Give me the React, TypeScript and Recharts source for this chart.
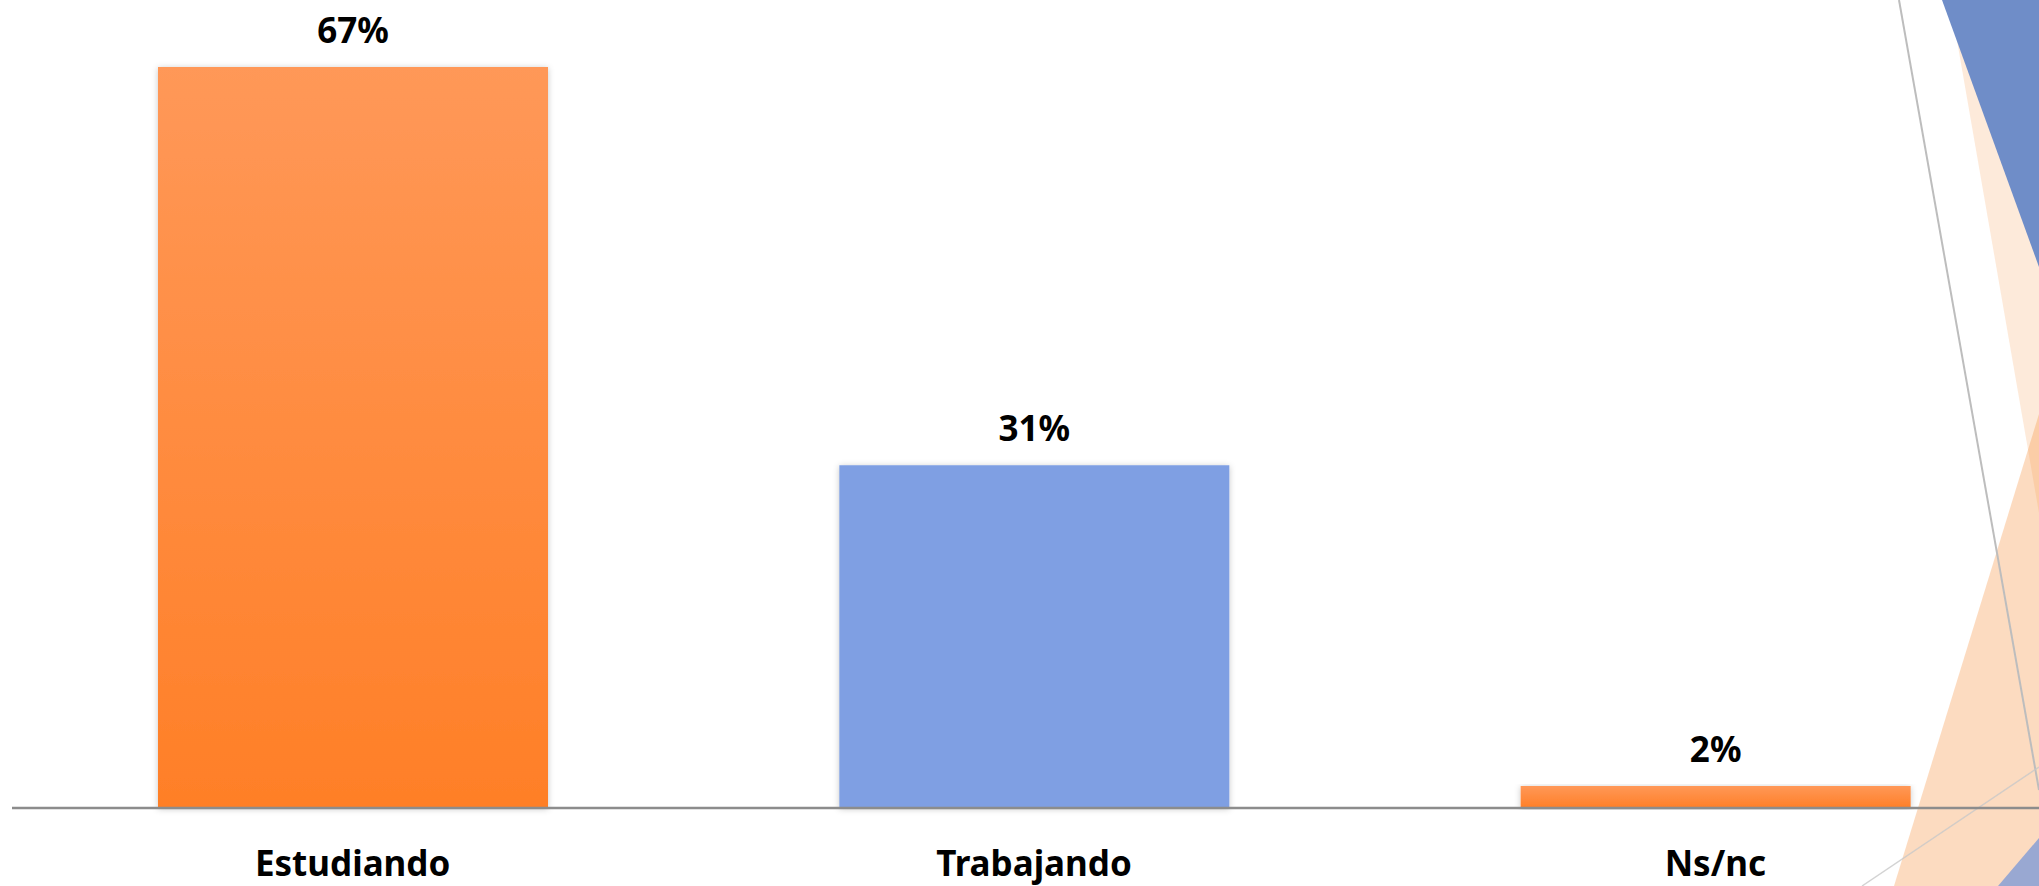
import React from 'react';
import { BarChart, Bar, XAxis, YAxis, Cell, LabelList } from 'recharts';

// Situación actual de los encuestados (%)
const categories = ['Estudiando', 'Trabajando', 'Ns/nc'];
const shares = [67, 31, 2];

const data = categories.map((name, i) => ({ name, value: shares[i] }));

const BAR_FILLS = ['url(#orangeGrad)', '#7F9FE3', 'url(#orangeGrad)'];
const FONT = '"Noto Sans", "Open Sans", sans-serif';
const FONT_SIZE = 35;

const CategoryTick = (props: any) => {
  const { x, y, payload } = props;
  return (
    <text
      x={x}
      y={y}
      dy={68}
      textAnchor="middle"
      fill="#000"
      fontSize={FONT_SIZE}
      fontWeight={700}
      fontFamily={FONT}
    >
      {payload.value}
    </text>
  );
};

// slide template decoration (behind the chart)
const Backdrop = () => (
  <svg
    width={2039}
    height={886}
    style={{ position: 'absolute', left: 0, top: 0 }}
  >
    <defs>
      <linearGradient id="orangeGrad" x1="0" y1="0" x2="0" y2="1">
        <stop offset="0%" stopColor="#FF9858" />
        <stop offset="100%" stopColor="#FF7F27" />
      </linearGradient>
      <filter id="barShadow" x="-5%" y="-5%" width="110%" height="110%">
        <feDropShadow dx="0" dy="1" stdDeviation="3" floodColor="#000" floodOpacity="0.22" />
      </filter>
    </defs>
    <polygon points="1950,0 2039,0 2039,513" fill="#F79646" fillOpacity={0.2} />
    <polygon points="2039,414 1894,886 2039,886" fill="#F79646" fillOpacity={0.34} />
    <polygon points="1942,0 2039,0 2039,267" fill="#6F8DC8" />
    <polygon points="1998,886 2039,838 2039,886" fill="#99A8D2" />
    <line x1={1899} y1={0} x2={2039} y2={790} stroke="#BDBDBD" strokeWidth={2} />
    <line x1={1862} y1={886} x2={2039} y2={767} stroke="#C8C8C8" strokeOpacity={0.8} strokeWidth={1.5} />
  </svg>
);

const App: React.FC = () => {
  return (
    <div
      style={{
        position: 'fixed',
        left: 0,
        top: 0,
        width: 2039,
        height: 886,
        overflow: 'hidden',
        background: '#fff',
      }}
    >
      <Backdrop />
      <div style={{ position: 'absolute', left: 0, top: 0 }}>
        <BarChart
          width={2060}
          height={886}
          data={data}
          margin={{ top: 67, right: 4, left: 12, bottom: 0 }}
        >
          <YAxis hide width={0} domain={[0, 67]} />
          <XAxis
            dataKey="name"
            height={78}
            axisLine={{ stroke: '#8C8C8C', strokeWidth: 2.5 }}
            tickLine={false}
            tickSize={0}
            tickMargin={0}
            tick={<CategoryTick />}
            interval={0}
          />
          <Bar dataKey="value" barSize={390} isAnimationActive={false}>
            {data.map((d, i) => (
              <Cell key={d.name} fill={BAR_FILLS[i]} filter="url(#barShadow)" />
            ))}
            <LabelList
              dataKey="value"
              position="top"
              offset={24}
              formatter={(v: any) => `${v}%`}
              fill="#000"
              fontSize={FONT_SIZE}
              fontWeight={700}
              fontFamily={FONT}
            />
          </Bar>
        </BarChart>
      </div>
    </div>
  );
};

export default App;
